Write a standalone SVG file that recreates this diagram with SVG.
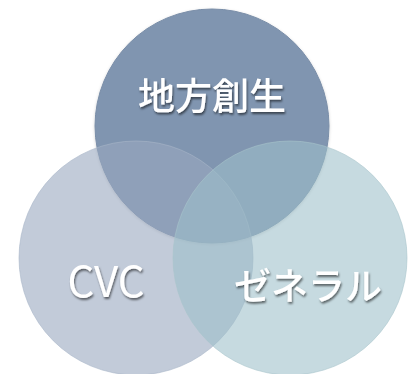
<svg xmlns="http://www.w3.org/2000/svg" width="416" height="374" viewBox="0 0 416 374">
<defs>
<filter id="ts" x="-20%" y="-30%" width="140%" height="160%">
<feDropShadow dx="1" dy="2" stdDeviation="1.2" flood-color="#000" flood-opacity="0.55"/>
</filter>
<filter id="cs" x="-10%" y="-10%" width="120%" height="120%">
<feDropShadow dx="0" dy="1" stdDeviation="1.5" flood-color="#000" flood-opacity="0.18"/>
</filter>
</defs>
<style>
.lbl{fill:#fff;font-family:"Noto Sans CJK JP","Noto Sans",sans-serif;text-anchor:middle;filter:url(#ts)}
.c{stroke-width:1}
</style>
<rect width="416" height="374" fill="#fff"/>
<g id="top">
<circle class="c" cx="212" cy="126" r="117" fill="#8095b0" stroke="#7a8ea8" filter="url(#cs)"/>
</g>
<g id="left">
<circle class="c" cx="136" cy="258" r="117" fill="#9aa9c0" fill-opacity="0.6" stroke="#a9b6c8" stroke-opacity="0.6"/>
</g>
<g id="right">
<circle class="c" cx="290" cy="258" r="117" fill="#9cc0ca" fill-opacity="0.58" stroke="#a8c4cc" stroke-opacity="0.6"/>
</g>
<g id="labels">
<text class="lbl" x="212" y="110" font-size="37" font-weight="500">地方創生</text>
<text class="lbl" x="106" y="297" font-size="42" font-family="'Open Sans',sans-serif">CVC</text>
<text class="lbl" x="308" y="300" font-size="37" font-weight="500">ゼネラル</text>
</g>
<g id="connectors"/>
</svg>
